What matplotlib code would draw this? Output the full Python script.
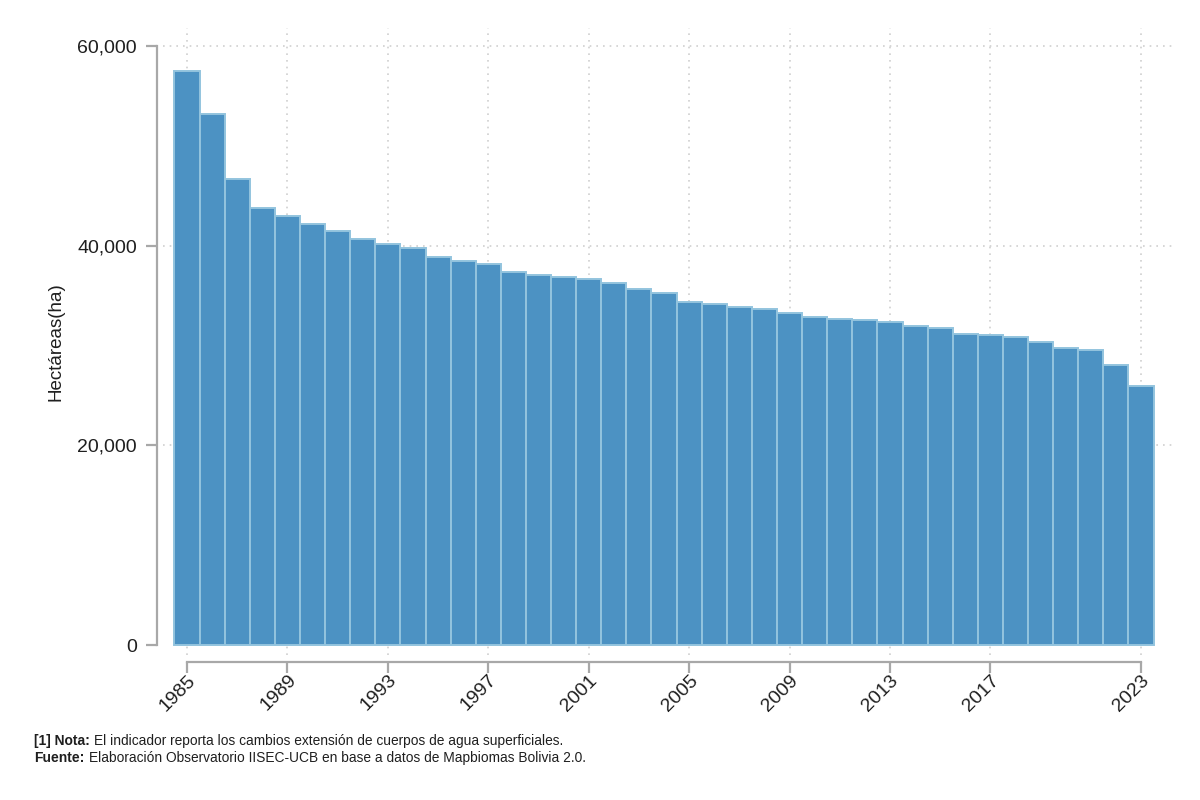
import matplotlib
matplotlib.use("Agg")
import matplotlib.pyplot as plt

plt.rcParams["font.family"] = ["Liberation Sans", "DejaVu Sans"]

years = list(range(1985, 2024))
hectares = [57500, 53200, 46700, 43800, 43000, 42200, 41500, 40700, 40200, 39800,
            38900, 38500, 38200, 37400, 37100, 36900, 36700, 36300, 35700, 35300,
            34400, 34200, 33900, 33700, 33300, 32900, 32700, 32600, 32400, 32000,
            31800, 31200, 31100, 30900, 30400, 29700, 29500, 28000, 25900]

x_ticks = [1985, 1989, 1993, 1997, 2001, 2005, 2009, 2013, 2017, 2023]
y_ticks = [0, 20000, 40000, 60000]
y_label = "Hectáreas(ha)"
text_color = "#1f1f1f"
dots = (0, (1, 3))

fig = plt.figure(figsize=(12, 8), dpi=100)

# axes box in pixels of the reference
left, right, top, bottom = 157, 1172, 28, 662
ax = fig.add_axes([left / 1200, 1 - bottom / 800, (right - left) / 1200, (bottom - top) / 800])

px_year = (1141 - 187) / 38
px_val = (645 - 46) / 60000
ax.set_xlim(1985 - (187 - left) / px_year, 1985 + (right - 187) / px_year)
ax.set_ylim(-(bottom - 645) / px_val, (645 - top) / px_val)

ax.bar(years, hectares, width=1, color="#4c92c3", edgecolor="#93c4de", linewidth=1.4, zorder=3)

# dotted grid stops a little above the lower axis
ax.vlines(x_ticks, -(655 - 645) / px_val, (645 - top) / px_val, color="#d0d0d0", linestyle=dots, linewidth=1.2, zorder=1)
ax.hlines(y_ticks[1:], 1985 - (187 - 163) / px_year, 1985 + (right - 187) / px_year, color="#d0d0d0", linestyle=dots, linewidth=1.2, zorder=1)

ax.set_xticks(x_ticks)
ax.set_yticks(y_ticks)
ax.set_yticklabels([f"{v:,}" for v in y_ticks])
ax.set_xticklabels(x_ticks, rotation=45, ha="right", rotation_mode="anchor")

for side in ["top", "right"]:
    ax.spines[side].set_visible(False)
ax.spines["left"].set_bounds(0, 60000)
ax.spines["bottom"].set_bounds(1985, 2023)
for side in ["left", "bottom"]:
    ax.spines[side].set_color("#a8a8a8")
    ax.spines[side].set_linewidth(1.6)

ax.tick_params(axis="both", color="#a8a8a8", width=1.6, length=8, labelsize=14, labelcolor=text_color)
ax.tick_params(axis="y", pad=6.5)
ax.tick_params(axis="x", pad=-1)
ax.set_ylabel(y_label, fontsize=13.5, color=text_color)
ax.yaxis.set_label_coords((64 - left) / (right - left), (bottom - 342) / (bottom - top))

fig.text(34 / 1200, 1 - 741 / 800, "[1] Nota:", fontsize=10, fontweight="bold", color=text_color, va="center")
fig.text(94 / 1200, 1 - 741 / 800, "El indicador reporta los cambios extensión de cuerpos de agua superficiales.",
         fontsize=9.95, color=text_color, va="center")
fig.text(34 / 1200, 1 - 758 / 800, "Fuente:", fontsize=10, fontweight="bold", color=text_color, va="center")
fig.text(89 / 1200, 1 - 758 / 800, "Elaboración Observatorio IISEC-UCB en base a datos de Mapbiomas Bolivia 2.0.",
         fontsize=9.95, color=text_color, va="center")

fig.savefig("out.png", dpi=100)
